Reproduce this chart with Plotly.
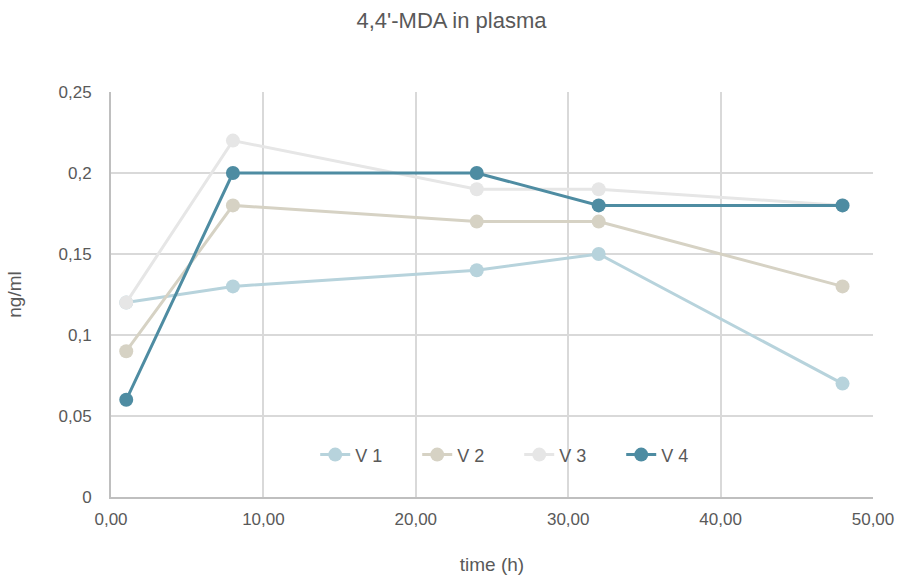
import plotly.graph_objects as go

time_h = [1, 8, 24, 32, 48]
series_names = ["V 1", "V 2", "V 3", "V 4"]
v1 = [0.12, 0.13, 0.14, 0.15, 0.07]
v2 = [0.09, 0.18, 0.17, 0.17, 0.13]
v3 = [0.12, 0.22, 0.19, 0.19, 0.18]
v4 = [0.06, 0.20, 0.20, 0.18, 0.18]
colors = ["#b7d3dc", "#d6d2c4", "#e6e6e6", "#4e8ca2"]

y_ticks = [0, 0.05, 0.1, 0.15, 0.2, 0.25]
y_ticktext = ["0", "0,05", "0,1", "0,15", "0,2", "0,25"]
x_ticks = [0, 10, 20, 30, 40, 50]
x_ticktext = ["0,00", "10,00", "20,00", "30,00", "40,00", "50,00"]

fig = go.Figure()
for name, vals, c in zip(series_names, [v1, v2, v3, v4], colors):
    fig.add_trace(go.Scatter(
        x=time_h, y=vals, name=name, mode="lines+markers",
        line=dict(color=c, width=3),
        marker=dict(color=c, size=14),
    ))

font_family = "Liberation Sans, Arial, sans-serif"
fig.update_layout(
    width=903, height=577,
    margin=dict(l=111, r=30, t=92, b=80),
    paper_bgcolor="white", plot_bgcolor="white",
    font=dict(family=font_family, size=17, color="#595959"),
    title=dict(text="4,4'-MDA in plasma", x=0.5, xanchor="center", y=0.965, yanchor="middle",
               font=dict(size=22, color="#595959")),
    showlegend=True,
    legend=dict(orientation="h", x=0.268, xanchor="left", y=0.104, yanchor="middle",
                bgcolor="rgba(0,0,0,0)", font=dict(size=18, color="#595959"),
                entrywidth=57),
    xaxis=dict(range=[0, 50], tickvals=x_ticks, ticktext=x_ticktext, automargin=False,
               showgrid=True, gridcolor="#d9d9d9", gridwidth=2,
               showline=True, linecolor="#bfbfbf", linewidth=2,
               zeroline=False, ticks="", tickfont=dict(size=17), ticklabelstandoff=6,
               title=dict(text="time (h)", font=dict(size=19, color="#595959"), standoff=29)),
    yaxis=dict(range=[0, 0.25], tickvals=y_ticks, ticktext=y_ticktext, automargin=False,
               showgrid=True, gridcolor="#d9d9d9", gridwidth=2,
               showline=True, linecolor="#bfbfbf", linewidth=2,
               zeroline=False, ticks="", tickfont=dict(size=17), ticklabelstandoff=14,
               title=dict(text="ng/ml", font=dict(size=19, color="#595959"), standoff=32)),
)
fig.write_html("out.html")
